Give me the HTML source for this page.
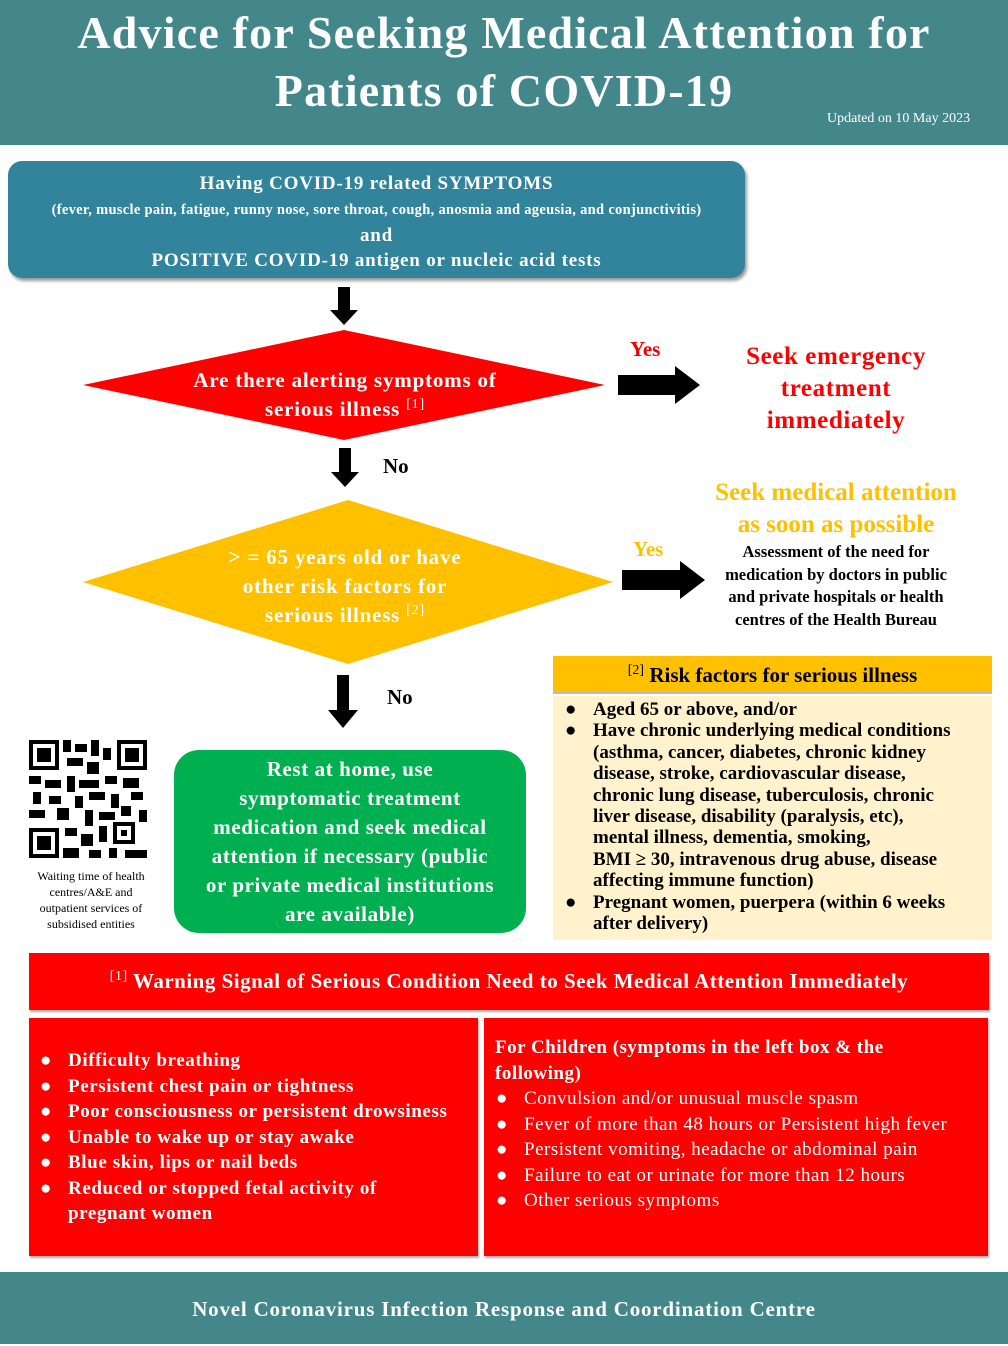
<!DOCTYPE html>
<html><head><meta charset="utf-8">
<style>
*{margin:0;padding:0;box-sizing:border-box}
body{width:1008px;height:1344px;position:relative;background:#fff;font-family:"Liberation Serif",serif;font-weight:bold;overflow:hidden}
.a{position:absolute}
.c{text-align:center}
.w{color:#fff}
ul{list-style:none}
li{position:relative;white-space:nowrap}
li:before{content:"●";position:absolute;left:-28px;font-size:1em}
sup{line-height:0;font-size:14px;font-weight:normal;vertical-align:0;position:relative;top:-8px}
</style></head><body>
<div class="a" style="left:0;top:0;width:1008px;height:145px;background:#43878a"></div>
<div class="a c w" style="left:0;top:4px;width:1008px;font-size:46px;line-height:58px;letter-spacing:1.2px">Advice for Seeking Medical Attention for<br>Patients of COVID-19</div>
<div class="a w" style="left:827px;top:111px;font-size:14px;font-weight:normal">Updated on 10 May 2023</div>

<div class="a c w" style="left:8px;top:161px;width:737px;height:117px;background:#31849b;border-radius:14px;box-shadow:2px 3px 3px #999;padding-top:10px;font-size:19px;line-height:25px;letter-spacing:0.8px">Having COVID-19 related SYMPTOMS<br><span style="font-size:14.5px;letter-spacing:0.3px">(fever, muscle pain, fatigue, runny nose, sore throat, cough, anosmia and ageusia, and conjunctivitis)</span><br>and<br>POSITIVE COVID-19 antigen or nucleic acid tests</div>

<svg class="a" style="left:0;top:0" width="1008" height="1344">
<g fill="#000">
<polygon points="338,287 350,287 350,310 358,310 344,325 330,310 338,310"/>
<polygon points="339,448 351,448 351,472 359,472 345,487 331,472 339,472"/>
<polygon points="337,675 349,675 349,710 358,710 343,728 328,710 337,710"/>
<polygon points="618,375 675,375 675,366 700,385 675,404 675,395 618,395"/>
<polygon points="622,570 680,570 680,561 705,580 680,599 680,590 622,590"/>
</g>
<polygon points="83,385 344,330 605,385 344,440" fill="#ff0000"/>
<polygon points="83,582 348,500 613,582 348,664" fill="#ffc000"/>
<g fill="#000">
<rect x="29" y="740" width="118" height="118" fill="#fff"/>
<rect x="29" y="740" width="30" height="30"/><rect x="33" y="744" width="22" height="22" fill="#fff"/><rect x="37" y="748" width="14" height="14"/>
<rect x="117" y="740" width="30" height="30"/><rect x="121" y="744" width="22" height="22" fill="#fff"/><rect x="125" y="748" width="14" height="14"/>
<rect x="29" y="828" width="30" height="30"/><rect x="33" y="832" width="22" height="22" fill="#fff"/><rect x="37" y="836" width="14" height="14"/>
<rect x="63" y="740" width="8" height="12"/><rect x="75" y="744" width="12" height="8"/><rect x="91" y="740" width="8" height="16"/><rect x="103" y="748" width="8" height="12"/>
<rect x="67" y="758" width="16" height="8"/><rect x="87" y="762" width="12" height="12"/>
<rect x="29" y="776" width="12" height="8"/><rect x="45" y="780" width="16" height="8"/><rect x="67" y="776" width="8" height="16"/><rect x="79" y="780" width="20" height="8"/><rect x="105" y="776" width="12" height="8"/><rect x="123" y="778" width="16" height="10"/>
<rect x="33" y="792" width="8" height="12"/><rect x="49" y="796" width="12" height="8"/><rect x="75" y="796" width="8" height="12"/><rect x="89" y="792" width="16" height="8"/><rect x="111" y="794" width="8" height="14"/><rect x="131" y="792" width="12" height="8"/>
<rect x="29" y="810" width="16" height="8"/><rect x="57" y="808" width="12" height="12"/><rect x="85" y="810" width="8" height="16"/><rect x="99" y="812" width="16" height="8"/><rect x="121" y="806" width="10" height="10"/><rect x="139" y="810" width="8" height="12"/>
<rect x="65" y="828" width="12" height="8"/><rect x="81" y="834" width="12" height="12"/><rect x="99" y="826" width="8" height="16"/><rect x="113" y="822" width="22" height="22"/><rect x="117" y="826" width="14" height="14" fill="#fff"/><rect x="121" y="830" width="6" height="6"/>
<rect x="63" y="848" width="16" height="10"/><rect x="89" y="850" width="12" height="8"/><rect x="109" y="848" width="8" height="10"/><rect x="125" y="850" width="22" height="8"/>
</g>
</svg>

<div class="a c w" style="left:120px;top:366px;width:450px;font-size:21px;line-height:29px;letter-spacing:0.8px">Are there alerting symptoms of<br>serious illness <sup>[1]</sup></div>
<div class="a" style="left:630px;top:337px;color:#e00;font-size:21px">Yes</div>
<div class="a c" style="left:700px;top:341px;width:272px;color:#f00;font-size:25px;line-height:32px;letter-spacing:0.6px">Seek emergency<br>treatment<br>immediately</div>
<div class="a" style="left:383px;top:454px;font-size:21px">No</div>

<div class="a c w" style="left:180px;top:543px;width:330px;font-size:21px;line-height:29px;letter-spacing:0.8px">&gt; = 65 years old or have<br>other risk factors for<br>serious illness <sup>[2]</sup></div>
<div class="a" style="left:633px;top:537px;color:#ffc000;font-size:21px">Yes</div>
<div class="a c" style="left:696px;top:477px;width:280px;color:#ffc000;font-size:25px;line-height:32px">Seek medical attention<br>as soon as possible</div>
<div class="a c" style="left:686px;top:541px;width:300px;font-size:16.5px;line-height:22.5px">Assessment of the need for<br>medication by doctors in public<br>and private hospitals or health<br>centres of the Health Bureau</div>
<div class="a" style="left:387px;top:685px;font-size:21px">No</div>

<div class="a c w" style="left:174px;top:750px;width:352px;height:183px;background:#00b050;border-radius:25px;padding-top:5px;font-size:21px;line-height:29px;letter-spacing:0.6px">Rest at home, use<br>symptomatic treatment<br>medication and seek medical<br>attention if necessary (public<br>or private medical institutions<br>are available)</div>

<div class="a c" style="left:20px;top:868px;width:142px;font-size:12px;line-height:16px;font-weight:normal">Waiting time of health<br>centres/A&amp;E and<br>outpatient services of<br>subsidised entities</div>

<div class="a c" style="left:553px;top:656px;width:439px;height:38px;background:#ffc000;font-size:21px;line-height:38px;border-bottom:2px solid #bbb"><sup>[2]</sup> Risk factors for serious illness</div>
<div class="a" style="left:553px;top:696px;width:439px;height:244px;background:#fff2cc;padding:3px 0 0 40px;font-size:19px;line-height:21.4px">
<ul><li>Aged 65 or above, and/or</li><li>Have chronic underlying medical conditions<br>(asthma, cancer, diabetes, chronic kidney<br>disease, stroke, cardiovascular disease,<br>chronic lung disease, tuberculosis, chronic<br>liver disease, disability (paralysis, etc),<br>mental illness, dementia, smoking,<br>BMI ≥ 30, intravenous drug abuse, disease<br>affecting immune function)</li><li>Pregnant women, puerpera (within 6 weeks<br>after delivery)</li></ul></div>

<div class="a c w" style="left:29px;top:953px;width:960px;height:57px;background:#f00;font-size:21px;line-height:57px;box-shadow:1px 2px 2px #aaa;letter-spacing:0.5px"><sup>[1]</sup> Warning Signal of Serious Condition Need to Seek Medical Attention Immediately</div>

<div class="a w" style="left:29px;top:1018px;width:449px;height:238px;background:#f00;padding:30px 0 0 39px;font-size:19px;line-height:25.5px;letter-spacing:0.6px;box-shadow:1px 2px 2px #aaa">
<ul><li>Difficulty breathing</li><li>Persistent chest pain or tightness</li><li>Poor consciousness or persistent drowsiness</li><li>Unable to wake up or stay awake</li><li>Blue skin, lips or nail beds</li><li>Reduced or stopped fetal activity of<br>pregnant women</li></ul></div>

<div class="a w" style="left:484px;top:1018px;width:504px;height:238px;background:#f00;padding:17px 0 0 11px;font-size:19px;line-height:25.5px;letter-spacing:0.5px;box-shadow:1px 2px 2px #aaa">
<div>For Children (symptoms in the left box &amp; the<br>following)</div>
<ul style="padding-left:29px;font-weight:normal"><li>Convulsion and/or unusual muscle spasm</li><li>Fever of more than 48 hours or Persistent high fever</li><li>Persistent vomiting, headache or abdominal pain</li><li>Failure to eat or urinate for more than 12 hours</li><li>Other serious symptoms</li></ul></div>

<div class="a c w" style="left:0;top:1272px;width:1008px;height:72px;background:#43878a;font-size:21px;line-height:74px;letter-spacing:0.8px">Novel Coronavirus Infection Response and Coordination Centre</div>
</body></html>
